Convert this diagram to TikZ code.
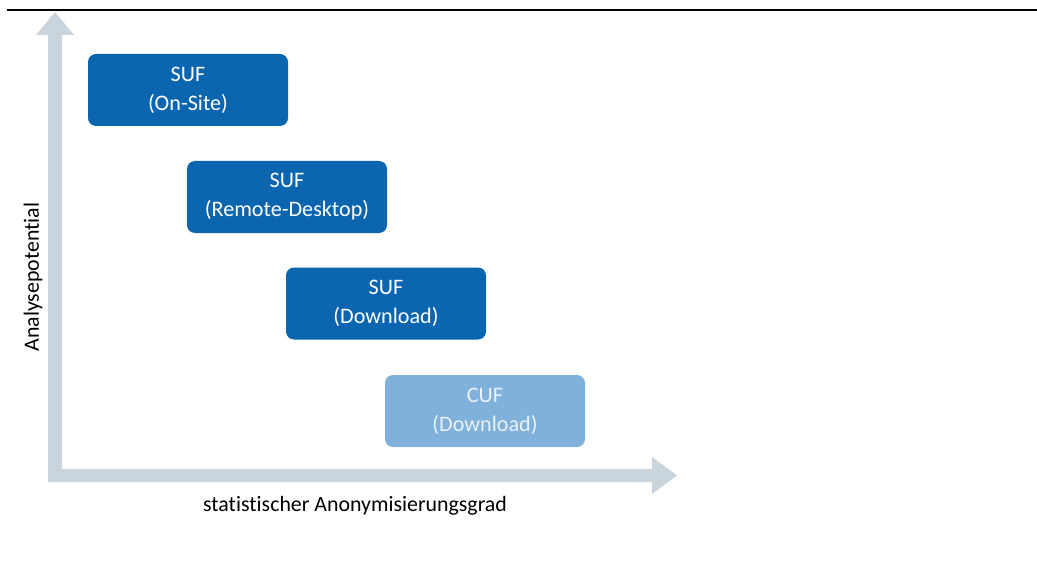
\documentclass[tikz,border=0pt]{standalone}
\usepackage{fontspec}
\setmainfont[Ligatures=NoCommon]{Carlito}
\definecolor{boxdark}{HTML}{0C65AF}
\definecolor{boxlight}{HTML}{7FB1DA}
\definecolor{axisgray}{HTML}{C9D4DC}
\definecolor{lighttext}{HTML}{EAF2F9}
\begin{document}
\begin{tikzpicture}[x=0.75pt,y=-0.75pt,
  box/.style={draw=none, rounded corners=6pt, minimum width=150pt, minimum height=54pt,
    align=center, text=white, font=\fontsize{16.6}{21.8}\selectfont, inner sep=0pt},
  darkbox/.style={box, fill=boxdark},
  lightbox/.style={box, fill=boxlight, text=lighttext},
  axislabel/.style={font=\fontsize{16.4}{19.8}\selectfont, text=black, inner sep=0pt}]
\useasboundingbox (0,0) rectangle (1037,577);
\draw[line width=1.5pt] (7,10) -- (1037,10);
% axes
\coordinate (origin) at (48,482);
\fill[axisgray] (48,482) -- (48,35) -- (36,35) -- (55,12) -- (74,35) -- (62,35) -- (62,469)
  -- (652,469) -- (652,457) -- (677,475.5) -- (652,494) -- (652,482) -- cycle;
\node[axislabel, rotate=90] (ylab) at (33,277) {Analysepotential};
\node[axislabel] (xlab) at (355,506) {statistischer Anonymisierungsgrad};
% boxes
\node[darkbox] (b1) at (188,90) {SUF\\(On-Site)};
\node[darkbox] (b2) at (287,197) {SUF\\(Remote-Desktop)};
\node[darkbox] (b3) at (386,303.5) {SUF\\(Download)};
\node[lightbox] (b4) at (485,411) {CUF\\(Download)};
\end{tikzpicture}
\end{document}
